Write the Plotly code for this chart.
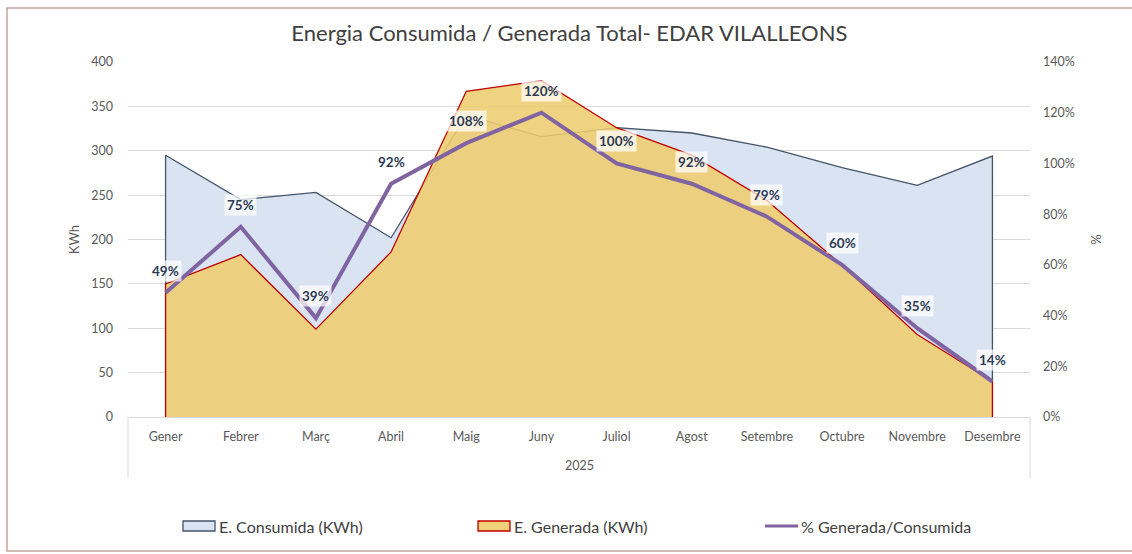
import plotly.graph_objects as go

# Monthly energy data, EDAR Vilalleons 2025
months = ["Gener", "Febrer", "Març", "Abril", "Maig", "Juny", "Juliol",
          "Agost", "Setembre", "Octubre", "Novembre", "Desembre"]
consumida = [295, 245, 253, 202, 340, 316, 326, 320, 304, 281, 261, 294]
generada = [150, 183, 99, 186, 367, 379, 326, 295, 244, 171, 93, 40]
pct = [49, 75, 39, 92, 108, 120, 100, 92, 79, 60, 35, 14]
year_label = "2025"
series_names = ["E. Consumida (KWh)", "E. Generada (KWh)", "% Generada/Consumida"]

FONT = "Lato"
GRAY = "#595959"

# Chart geometry (pixels)
W, H = 1132, 554
L, R, T, B = 128, 102, 62, 137
PW, PH = W - L - R, H - T - B


def px_x(px):
    return (px - L) / PW


def px_y(py):
    return (H - B - py) / PH


idx = list(range(len(months)))
# Close each area with vertical edges down to zero at both ends
area_x = [idx[0]] + idx + [idx[-1]]

CONS_FILL, CONS_LINE = "#DAE3F1", "#44546A"
GEN_FILL, GEN_LINE = "rgba(238,205,112,0.88)", "#C00000"
PCT_LINE = "#8064A2"

fig = go.Figure()

fig.add_trace(go.Scatter(
    x=area_x, y=[0] + consumida + [0],
    name=series_names[0],
    mode="lines", fill="tozeroy", fillcolor=CONS_FILL,
    line=dict(color=CONS_LINE, width=1.3), hoverinfo="skip",
))

fig.add_trace(go.Scatter(
    x=area_x, y=[0] + generada + [0],
    name=series_names[1],
    mode="lines", fill="tozeroy", fillcolor=GEN_FILL,
    line=dict(color=GEN_LINE, width=1.3), hoverinfo="skip",
))

fig.add_trace(go.Scatter(
    x=idx, y=pct,
    name=series_names[2],
    mode="lines", line=dict(color=PCT_LINE, width=4),
    yaxis="y2", hoverinfo="skip",
))

# Percentage labels above the ratio line
for i, p in zip(idx, pct):
    fig.add_annotation(
        x=i, y=p, xref="x", yref="y2",
        text=f"<b>{p}%</b>", showarrow=False, yshift=22,
        bgcolor="rgba(255,255,255,0.72)",
        font=dict(family=FONT, size=13.5, color="#2E3C55"),
        borderpad=2,
    )

# Year label under the month categories
fig.add_annotation(
    x=0.5, y=px_y(465), xref="paper", yref="paper",
    xanchor="center", yanchor="middle",
    text=year_label, showarrow=False,
    font=dict(family=FONT, size=12.5, color=GRAY),
)

shapes = [
    # category axis box sides
    dict(type="line", xref="paper", yref="paper", x0=0, x1=0,
         y0=0, y1=px_y(478), line=dict(color="#D9D9D9", width=1)),
    dict(type="line", xref="paper", yref="paper", x0=1, x1=1,
         y0=0, y1=px_y(478), line=dict(color="#D9D9D9", width=1)),
    # chart frame
    dict(type="rect", xref="paper", yref="paper",
         x0=px_x(7), x1=px_x(1145), y0=px_y(551), y1=px_y(8),
         line=dict(color="#C9A29C", width=1.5), layer="below"),
]

# Legend row: swatch boxes for the areas, a short line for the ratio
LEG_Y = 526
legend_items = [
    (183, "box", CONS_FILL, CONS_LINE),
    (478, "box", "#F0D078", GEN_LINE),
    (765, "line", None, PCT_LINE),
]
for (x0, kind, fill, edge), name in zip(legend_items, series_names):
    if kind == "box":
        shapes.append(dict(
            type="rect", xref="paper", yref="paper",
            x0=px_x(x0), x1=px_x(x0 + 32),
            y0=px_y(LEG_Y + 5), y1=px_y(LEG_Y - 5),
            fillcolor=fill, line=dict(color=edge, width=1.3),
        ))
    else:
        shapes.append(dict(
            type="line", xref="paper", yref="paper",
            x0=px_x(x0), x1=px_x(x0 + 33),
            y0=px_y(LEG_Y), y1=px_y(LEG_Y),
            line=dict(color=edge, width=3),
        ))
    fig.add_annotation(
        x=px_x(x0 + 34), y=px_y(LEG_Y), xref="paper", yref="paper",
        xanchor="left", yanchor="middle", showarrow=False,
        text=name, font=dict(family=FONT, size=16, color="#404040"),
    )

fig.update_layout(
    width=W, height=H,
    margin=dict(l=L, r=R, t=T, b=B, autoexpand=False),
    paper_bgcolor="white", plot_bgcolor="white",
    font=dict(family=FONT, color=GRAY),
    showlegend=False,
    title=dict(
        text="Energia Consumida / Generada Total- EDAR VILALLEONS",
        x=0.503, xref="container", xanchor="center",
        y=1 - 33 / H, yref="container", yanchor="middle",
        font=dict(family=FONT, size=22, color="#404040"),
    ),
    xaxis=dict(
        range=[-0.5, len(months) - 0.5],
        tickmode="array", tickvals=idx, ticktext=months,
        showgrid=False, zeroline=False,
        showline=True, linecolor="#D9D9D9", linewidth=1,
        ticks="", ticklabelstandoff=8,
        tickfont=dict(family=FONT, size=12.5, color=GRAY),
    ),
    yaxis=dict(
        range=[0, 400], dtick=50,
        showgrid=True, gridcolor="#D9D9D9", gridwidth=1,
        zeroline=False, showline=False, ticks="",
        ticklabelstandoff=14,
        tickfont=dict(family=FONT, size=12.5, color=GRAY),
        title=dict(text="KWh", standoff=8,
                   font=dict(family=FONT, size=13, color=GRAY)),
    ),
    yaxis2=dict(
        range=[0, 140], dtick=20, ticksuffix="%",
        overlaying="y", side="right",
        showgrid=False, zeroline=False, showline=False, ticks="",
        ticklabelstandoff=12,
        tickfont=dict(family=FONT, size=12.5, color=GRAY),
        title=dict(text="%", standoff=18,
                   font=dict(family=FONT, size=13, color=GRAY)),
    ),
    shapes=shapes,
)

fig.write_html("out.html")
